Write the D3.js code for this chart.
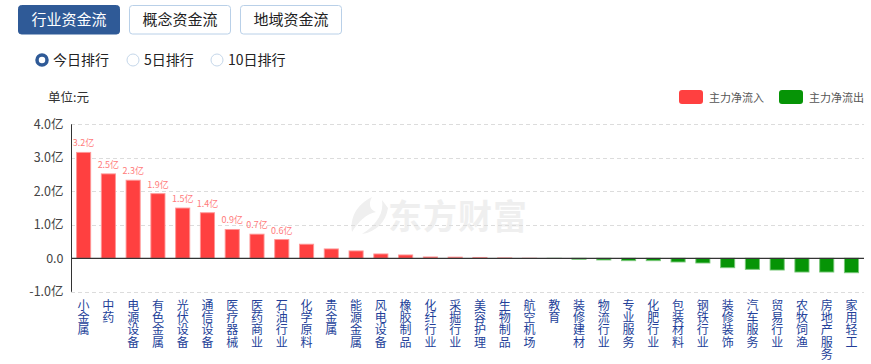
<!DOCTYPE html>
<html><head><meta charset="utf-8">
<script src="https://cdn.jsdelivr.net/npm/d3@7/dist/d3.min.js"></script>
<style>
html,body{margin:0;padding:0;background:#fff;}
svg{display:block;font-family:"Noto Sans CJK SC","Microsoft YaHei",sans-serif;}
</style></head><body>
<svg id="c" width="871" height="364"></svg>
<script>
const tabs = ["行业资金流","概念资金流","地域资金流"];
const radios = ["今日排行","5日排行","10日排行"];
const categories = ["小金属","中药","电源设备","有色金属","光伏设备","通信设备","医疗器械","医药商业","石油行业","化学原料","贵金属","能源金属","风电设备","橡胶制品","化纤行业","采掘行业","美容护理","生物制品","航空机场","教育","装修建材","物流行业","专业服务","化肥行业","包装材料","钢铁行业","装修装饰","汽车服务","贸易行业","农牧饲渔","房地产服务","家用轻工"];
const values = [3.16,2.52,2.33,1.93,1.50,1.36,0.86,0.72,0.56,0.42,0.28,0.22,0.13,0.10,0.04,0.035,0.025,0.012,0.003,-0.005,-0.03,-0.05,-0.07,-0.07,-0.11,-0.14,-0.28,-0.33,-0.35,-0.41,-0.41,-0.43];
const yTicks = [-1,0,1,2,3,4];
const yTickLabels = ["-1.0亿","0.0","1.0亿","2.0亿","3.0亿","4.0亿"];
const legendNames = ["主力净流入","主力净流出"];
const unitLabel = "单位:元";
const watermark = "东方财富";

const svg = d3.select("#c");

// tabs
const tabX = d3.scaleBand().domain(tabs).range([18, 341]).paddingInner(0.09);
tabs.forEach((t,i)=>{
  const g = svg.append("g");
  g.append("rect").attr("x",tabX(t)+0.5).attr("y",5.5).attr("width",tabX.bandwidth()).attr("height",28.5).attr("rx",3)
    .attr("fill", i===0?"#2f5a97":"#fff").attr("stroke", i===0?"#2f5a97":"#b9d0e8");
  g.append("text").attr("x",tabX(t)+tabX.bandwidth()/2+0.5).attr("y",25).attr("text-anchor","middle")
    .attr("font-size",15).attr("fill", i===0?"#fff":"#222").text(t);
});

// radios
const radioX = [42,133,217];
radios.forEach((r,i)=>{
  if(i===0){
    svg.append("circle").attr("cx",radioX[i]).attr("cy",60).attr("r",5).attr("fill","#fff").attr("stroke","#2f5a97").attr("stroke-width",3.5);
  } else {
    svg.append("circle").attr("cx",radioX[i]).attr("cy",60).attr("r",6).attr("fill","#fff").attr("stroke","#c5d7ea").attr("stroke-width",1);
  }
  svg.append("text").attr("x",radioX[i]+11).attr("y",65).attr("font-size",14).attr("fill","#222").text(r);
});

// unit label
svg.append("text").attr("x",48).attr("y",102).attr("font-size",12.5).attr("fill","#333").text(unitLabel);

// legend
const legColors = ["#ff4040","#069406"];
const legX = [679,779];
legendNames.forEach((n,i)=>{
  svg.append("rect").attr("x",legX[i]).attr("y",90).attr("width",24).attr("height",14).attr("rx",3).attr("fill",legColors[i]);
  svg.append("text").attr("x",legX[i]+30).attr("y",101.5).attr("font-size",11).attr("fill","#555").text(n);
});

// scales
const x = d3.scaleBand().domain(categories).range([71.1, 864]).paddingInner(0.39).paddingOuter(0.2);
const y = d3.scaleLinear().domain([-1,4]).range([291.8,124.3]);

// watermark
const wm = svg.append("g").attr("fill","#efefef");
wm.append("path").attr("d","M372,197 C356,205 350,218 352,232 C358,222 366,214 376,212 C370,210 368,204 372,197 Z M382,200 C384,212 378,224 362,234 C376,232 386,222 388,208 Z");
wm.append("text").attr("x",388).attr("y",229).attr("font-size",34).attr("font-weight","bold").attr("letter-spacing",1).text(watermark);

// grid
yTicks.forEach(t=>{
  if(t===0) return;
  svg.append("line").attr("x1",71).attr("x2",864).attr("y1",Math.round(y(t))+0.5).attr("y2",Math.round(y(t))+0.5)
    .attr("stroke","#dcdcdc").attr("stroke-dasharray","4,3");
});

// y axis
const yAxis = d3.axisLeft(y).tickValues(yTicks).tickFormat(d=>yTickLabels[yTicks.indexOf(d)]).tickSize(0).tickPadding(8);
const ga = svg.append("g").attr("transform","translate(71.5,0)").call(yAxis);
ga.select(".domain").attr("stroke","#333").attr("d",`M0,${y(4)}V${y(-1)}`);
ga.selectAll("text").attr("font-size",12.5).attr("fill","#444").attr("font-family","Noto Sans CJK SC, sans-serif");

// bars
svg.append("g").selectAll("rect").data(values).join("rect")
  .attr("x",(d,i)=>x(categories[i])+0.5)
  .attr("y",d=>d>=0?y(d):y(0))
  .attr("width",x.bandwidth()-1)
  .attr("height",d=>Math.max(0.01,Math.abs(y(d)-y(0))))
  .attr("fill",d=>d>=0?"#ff4040":"#069406")
  .attr("stroke",d=>d>=0?"rgba(255,150,150,0.9)":"rgba(120,200,120,0.9)")
  .attr("stroke-width",1);

// zero line
svg.append("line").attr("x1",71).attr("x2",864).attr("y1",y(0)).attr("y2",y(0)).attr("stroke","#333").attr("stroke-width",1.3);

// value labels (top 9)
svg.append("g").selectAll("text").data(values.filter(v=>v>=0.5)).join("text")
  .attr("x",(d,i)=>x(categories[i])+x.bandwidth()/2)
  .attr("y",d=>y(d)-6)
  .attr("text-anchor","middle").attr("font-size",9).attr("fill","#ff7b7b")
  .text(d=>d3.format(".1f")(d)+"亿");

// x labels: one character per line
const xl = svg.append("g");
categories.forEach(c=>{
  const t = xl.append("text").attr("text-anchor","middle").attr("font-size",12).attr("fill","#233f99");
  Array.from(c).forEach((ch,j)=>{
    t.append("tspan").attr("x",x(c)+x.bandwidth()/2).attr("y",309.5+j*12.4).text(ch);
  });
});
</script>
</body></html>
